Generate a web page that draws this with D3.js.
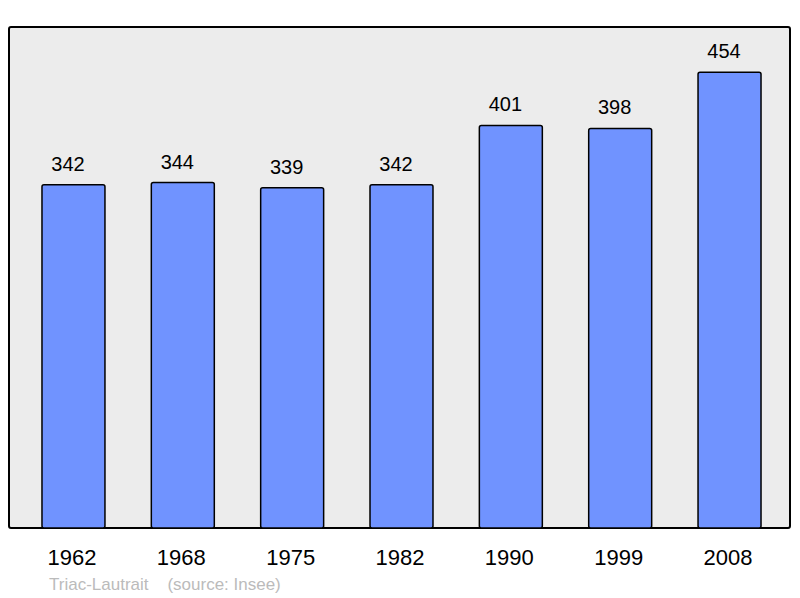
<!DOCTYPE html>
<html>
<head>
<meta charset="utf-8">
<script src="https://cdnjs.cloudflare.com/ajax/libs/d3/7.8.5/d3.min.js"></script>
<style>
  body { margin: 0; background: #fff; }
  svg text { font-family: "Liberation Sans", Arial, sans-serif; }
</style>
</head>
<body>
<div id="chart"></div>
<script>
'use strict';

var years = ['1962', '1968', '1975', '1982', '1990', '1999', '2008'];
var population = [342, 344, 339, 342, 401, 398, 454];
var commune = 'Triac-Lautrait';
var source = '(source: Insee)';

var width = 800,
    height = 598,
    svg = d3.select('#chart').append('svg').attr('width', width).attr('height', height),
    x = d3.scaleBand().domain(years).range([18.8, 784.2]).paddingInner(0.424).paddingOuter(0.212),
    y = d3.scaleLinear().domain([0, 500]).range([528, 26]);

// frame
svg.append('rect').attr('x', 9).attr('y', 27).attr('width', 781).attr('height', 501)
    .attr('rx', 2).attr('fill', '#ececec').attr('stroke', '#000').attr('stroke-width', 2);

var bar = svg.selectAll('.bar').data(years).enter().append('g').attr('class', 'bar');

bar.append('rect').attr('x', function (d) {
    return x(d);
}).attr('y', function (d, i) {
    return y(population[i]);
}).attr('width', x.bandwidth()).attr('height', function (d, i) {
    return y(0) - y(population[i]);
}).attr('rx', 2).attr('fill', '#7093ff').attr('stroke', '#000').attr('stroke-width', 1.5);

// value labels sit a little left of the bar centre, as in the original
bar.append('text').attr('x', function (d) {
    return x(d) + x.bandwidth() / 2 - 5.5;
}).attr('y', function (d, i) {
    return y(population[i]) - 14;
}).attr('text-anchor', 'middle').style('font-size', '20px').attr('fill', '#000').text(function (d, i) {
    return population[i];
});

// x axis labels
svg.append('g').selectAll('text').data(years).enter().append('text').attr('x', function (d) {
    return x(d) + x.bandwidth() / 2 - 1.5;
}).attr('y', 565).attr('text-anchor', 'middle').style('font-size', '22px').attr('fill', '#000').text(function (d) {
    return d;
});

svg.append('text').attr('x', 49).attr('y', 590).style('font-size', '17px').attr('fill', '#bbb')
    .attr('xml:space', 'preserve').text(commune + '    ' + source);
</script>
</body>
</html>
